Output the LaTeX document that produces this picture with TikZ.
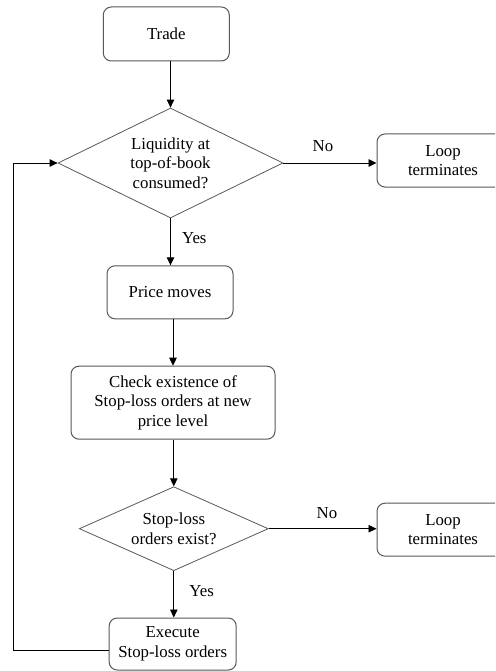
\documentclass[tikz,border=0pt]{standalone}
\usepackage{fontspec}
\setmainfont{Liberation Serif}
\usetikzlibrary{shapes.geometric,arrows.meta}
\tikzset{
  box/.style={draw=black!65, line width=1pt, rounded corners=8pt, align=center, inner sep=0pt},
  dia/.style={draw=black!65, line width=0.8pt, shape=diamond, align=center, inner sep=1pt},
  arr/.style={draw=black, line width=0.9pt, -{Triangle[length=8pt,width=7.5pt]}},
  lbl/.style={inner sep=0pt},
}
\begin{document}
\begin{tikzpicture}[x=1pt,y=-1pt,font=\fontsize{16.8}{19.5}\selectfont]
\clip (0,0) rectangle (495,671);
\fill[white] (0,0) rectangle (495,671);
\node[box, minimum width=126pt, minimum height=54pt] (trade) at (166.3,34) {Trade};
\node[dia, aspect=2.05, minimum width=225pt, minimum height=110pt] (d1) at (170.5,163) {Liquidity at\\top-of-book\\consumed?};
\node[box, minimum width=132pt, minimum height=53pt] (l1) at (443,160.5) {Loop\\terminates};
\node[box, minimum width=126pt, minimum height=53pt] (price) at (170,292.3) {Price moves};
\node[box, minimum width=204pt, minimum height=73pt] (check) at (173,402.7) {Check existence of\\Stop-loss orders at new\\price level};
\node[dia, aspect=2.25, minimum width=189pt, minimum height=84pt] (d2) at (173.8,528.7) {Stop-loss\\orders exist?};
\node[box, minimum width=132pt, minimum height=53pt] (l2) at (443,529.7) {Loop\\terminates};
\node[box, minimum width=127pt, minimum height=52pt] (exec) at (172.7,644) {Execute\\Stop-loss orders};
\coordinate (c1) at (13.3,650.7);
\coordinate (c2) at (13.3,163);

\draw[arr] (d1.north |- trade.south) -- (d1.north);
\draw[arr] (d1.east) -- (d1.east -| l1.west);
\draw[arr] (d1.south) -- (d1.south |- price.north);
\draw[arr] (check.north |- price.south) -- (check.north);
\draw[arr] (d2.north |- check.south) -- (d2.north);
\draw[arr] (d2.east) -- (d2.east -| l2.west);
\draw[arr] (d2.south) -- (d2.south |- exec.north);
\draw[arr] (exec.west |- c1) -- (c1) -- (c2) -- (d1.west);

\node[lbl] (no1) at (323,145.7) {No};
\node[lbl] (yes1) at (194.3,238) {Yes};
\node[lbl] (no2) at (327,512.7) {No};
\node[lbl] (yes2) at (201.7,590.7) {Yes};
\end{tikzpicture}
\end{document}
